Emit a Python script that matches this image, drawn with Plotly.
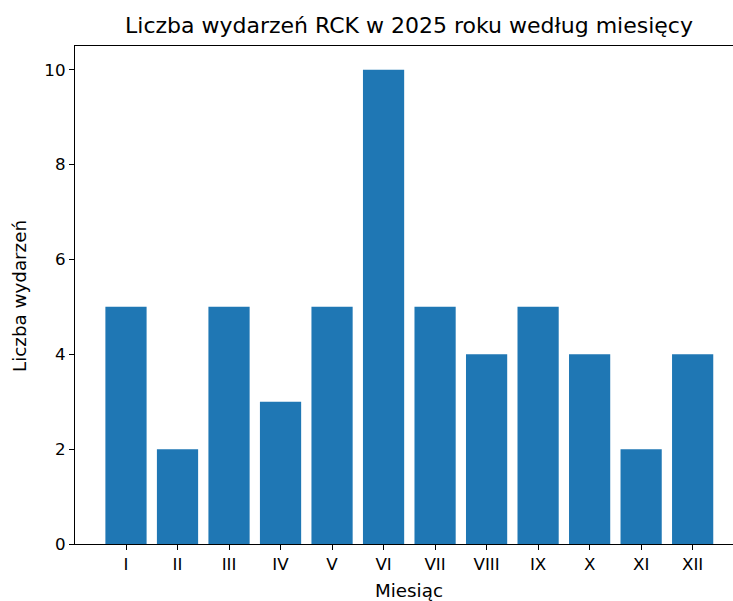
import plotly.graph_objects as go

# dane: liczba wydarzeń RCK w 2025 roku
months = ["I", "II", "III", "IV", "V", "VI", "VII", "VIII", "IX", "X", "XI", "XII"]
events = [5, 2, 5, 3, 5, 10, 5, 4, 5, 4, 2, 4]
y_ticks = [0, 2, 4, 6, 8, 10]

font = "DejaVu Sans"

fig = go.Figure(go.Bar(
    x=list(range(len(months))),
    y=events,
    marker=dict(color="#1f77b4", line=dict(width=0)),
    width=0.8,
))

fig.update_layout(
    width=733,
    height=601,
    margin=dict(l=75, r=0, t=46, b=57),
    plot_bgcolor="white",
    paper_bgcolor="white",
    showlegend=False,
    font=dict(family=font, size=17, color="black"),
    title=dict(
        text="Liczba wydarzeń RCK w 2025 roku według miesięcy",
        x=(75 + 743) / 2 / 733, xref="container", xanchor="center",
        y=1 - 25 / 601, yref="container", yanchor="middle",
        font=dict(family=font, size=22, color="black"),
    ),
)

fig.update_xaxes(
    range=[-0.99, 11 + (733 - 692.7) / 51.45],
    tickvals=list(range(len(months))),
    ticktext=months,
    ticks="outside", ticklen=5, tickwidth=1.2, tickcolor="black",
    showline=True, linecolor="black", linewidth=1.3, mirror=True,
    showgrid=False, zeroline=False,
    tickfont=dict(family=font, size=16.7, color="black"),
)
fig.update_yaxes(
    range=[0, 10.5],
    tickvals=y_ticks,
    ticks="outside", ticklen=5, tickwidth=1.2, tickcolor="black",
    showline=True, linecolor="black", linewidth=1.3, mirror=False,
    showgrid=False, zeroline=False,
    tickfont=dict(family=font, size=16.7, color="black"),
)

fig.add_annotation(
    text="Miesiąc", xref="paper", yref="paper",
    x=(409 - 75) / (733 - 75), y=-(590 - 544) / (544 - 46),
    xanchor="center", yanchor="middle", showarrow=False,
    font=dict(family=font, size=18.3, color="black"),
)
fig.add_annotation(
    text="Liczba wydarzeń", xref="paper", yref="paper",
    x=-(75 - 19) / (733 - 75), y=(544 - 296) / (544 - 46), textangle=-90,
    xanchor="center", yanchor="middle", showarrow=False,
    font=dict(family=font, size=18.3, color="black"),
)

# bez domyślnego marginesu strony, żeby wykres zaczynał się w rogu okna
fig.write_html(
    "out.html",
    config={"displayModeBar": False},
    post_script="document.body.style.margin='0';",
)
